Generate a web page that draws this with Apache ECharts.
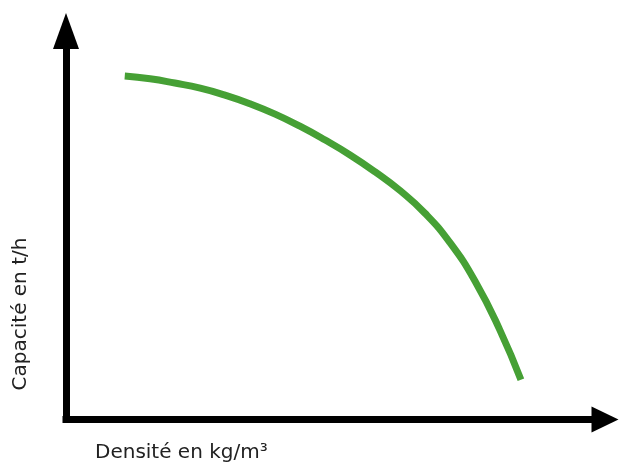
<!DOCTYPE html>
<html>
<head>
<meta charset="utf-8">
<script src="https://cdn.jsdelivr.net/npm/echarts@6/dist/echarts.min.js"></script>
<style>html,body{margin:0;padding:0;background:#fff}#c{width:619px;height:466px}</style>
</head>
<body>
<div id="c"></div>
<script>
// Density (relative units, 0-100) vs capacity (relative units, 0-100)
var densite = [10.9, 15.6, 20.2, 24.9, 29.5, 34.1, 38.8, 43.4, 48.0, 52.7, 57.3, 62.0, 66.6, 71.2, 75.9, 80.5, 84.4];
var capacite = [88.4, 87.7, 86.6, 85.3, 83.5, 81.3, 78.6, 75.5, 72.0, 68.1, 63.8, 58.9, 53.1, 45.6, 35.6, 23.0, 10.2];
var xTitle = 'Densité en kg/m³';
var yTitle = 'Capacité en t/h';

var points = densite.map(function (d, i) { return [d, capacite[i]]; });
var font = 'normal 20px "DejaVu Sans", sans-serif';

var chart = echarts.init(document.getElementById('c'), null, { renderer: 'canvas' });
chart.setOption({
  animation: false,
  backgroundColor: '#fff',
  grid: { left: 66, right: 14, top: 31, bottom: 46.5, containLabel: false },
  xAxis: {
    type: 'value', min: 0, max: 100,
    axisLine: { show: true, symbol: ['none', 'triangle'], symbolSize: [26, 27],
      lineStyle: { color: '#000', width: 7, cap: 'square' } },
    axisTick: { show: false }, axisLabel: { show: false }, splitLine: { show: false }
  },
  yAxis: {
    type: 'value', min: 0, max: 100,
    axisLine: { show: true, symbol: ['none', 'triangle'], symbolSize: [26, 36],
      lineStyle: { color: '#000', width: 7, cap: 'square' } },
    axisTick: { show: false }, axisLabel: { show: false }, splitLine: { show: false }
  },
  series: [{
    type: 'line',
    data: points,
    smooth: 0.5,
    showSymbol: false,
    lineStyle: { color: '#46a035', width: 7, cap: 'butt' }
  }],
  graphic: [
    { type: 'text', left: 95, top: 443,
      style: { text: xTitle, font: font, fill: '#222' } },
    { type: 'text', x: 21, y: 314, rotation: Math.PI / 2,
      style: { text: yTitle, font: font, fill: '#222', align: 'center', verticalAlign: 'middle' } }
  ]
});
</script>
</body>
</html>
